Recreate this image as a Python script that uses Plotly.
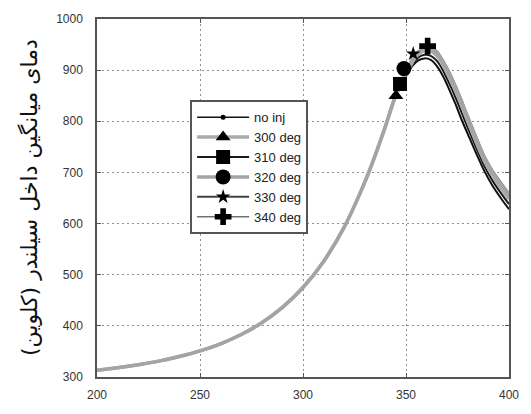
import plotly.graph_objects as go

# Shared compression (rising) part, crank angle [deg] and mean temperature [K]
rise_x = [200, 210, 220, 230, 240, 250, 260, 270, 280, 290, 300, 310,
          320, 330, 335, 340, 345]
rise_t = [313, 318, 324, 331, 340, 351, 365, 383, 406, 436, 475, 526,
          593, 681, 733, 790, 850]

# Tails after 345 deg for each case
tail_x = [350, 353, 356, 359, 362, 365, 368, 371, 374, 377, 380, 384, 388, 392, 396, 400]
t_noinj = [888, 908, 919, 923, 920, 908, 888, 862, 834, 803, 775, 738, 703, 674, 650, 628]
t_300 = [890, 915, 931, 938, 937, 928, 910, 886, 860, 831, 800, 760, 723, 694, 670, 648]
t_310 = [889, 911, 925, 930, 928, 918, 899, 874, 847, 817, 787, 749, 713, 684, 660, 638]
t_320 = [895, 920, 936, 943, 942, 934, 916, 893, 867, 838, 807, 767, 730, 701, 678, 656]
t_330 = [891, 918, 936, 942, 943, 935, 917, 894, 868, 839, 808, 768, 730, 700, 676, 653]
t_340 = [893, 920, 937, 945, 946, 938, 920, 898, 872, 843, 812, 772, 734, 705, 682, 660]

# Injection markers
labels = ["no inj", "300 deg", "310 deg", "320 deg", "330 deg", "340 deg"]
inj_x = [None, 345.1, 347.1, 349.0, 353.5, 360.5]
inj_t = [None, 850, 873, 903, 932, 947]

x_ticks = [200, 250, 300, 350, 400]
y_ticks = [300, 400, 500, 600, 700, 800, 900, 1000]

series = [t_noinj, t_300, t_310, t_320, t_330, t_340]
line_colors = ["#111111", "#ababab", "#1a1a1a", "#a4a4a4", "#444444", "#707070"]
line_widths = [2, 3.5, 2, 3.5, 2, 1.5]
symbols = ["circle", "triangle-up", "square", "circle", "star", "cross"]
msizes = [5, 13, 14, 15, 11, 14]
draw_order = [0, 2, 4, 5, 1, 3]

fig = go.Figure()
for i in draw_order:
    fig.add_trace(go.Scatter(
        x=rise_x + tail_x, y=rise_t + series[i], mode="lines",
        line=dict(color=line_colors[i], width=line_widths[i], shape="spline", smoothing=1),
        showlegend=False, hoverinfo="skip"))

for i in range(1, 6):
    fig.add_trace(go.Scatter(
        x=[inj_x[i]], y=[inj_t[i]], mode="markers",
        marker=dict(symbol=symbols[i], size=msizes[i], color="#000000"),
        showlegend=False))

for i in range(6):
    fig.add_trace(go.Scatter(
        x=[None], y=[None], mode="lines+markers", name=labels[i],
        line=dict(color=line_colors[i], width=line_widths[i] if i else 1.5),
        marker=dict(symbol=symbols[i], size=msizes[i] if i else 5, color="#000000")))

axis_common = dict(
    showline=True, linecolor="#555555", linewidth=1.5, mirror="ticks",
    ticks="inside", ticklen=4, tickcolor="#555555",
    showgrid=True, gridcolor="#8f8f8f", gridwidth=1, griddash="2px,3px",
    zeroline=False, tickfont=dict(family="Liberation Sans", size=12, color="#333333"),
)

fig.update_xaxes(range=[200, 400], tickvals=x_ticks, ticklabelstandoff=6, **axis_common)
fig.update_yaxes(range=[300, 1000], tickvals=y_ticks, ticklabelstandoff=10, **axis_common)

fig.add_annotation(
    text="دمای میانگین داخل سیلندر (کلوین)", xref="paper", yref="paper",
    x=-0.165, y=0.5, xanchor="center", yanchor="middle", textangle=-90,
    showarrow=False, font=dict(family="DejaVu Sans", size=22, color="#111111"))

fig.update_layout(
    width=531, height=414,
    margin=dict(l=97, r=14, t=15, b=24),
    paper_bgcolor="white", plot_bgcolor="white",
    legend=dict(x=0.226, y=0.773, xanchor="left", yanchor="top",
                bgcolor="white", bordercolor="#555555", borderwidth=2,
                font=dict(family="Liberation Sans", size=13, color="#222222"),
                itemwidth=52, tracegroupgap=0),
)

fig.write_html("out.html")
